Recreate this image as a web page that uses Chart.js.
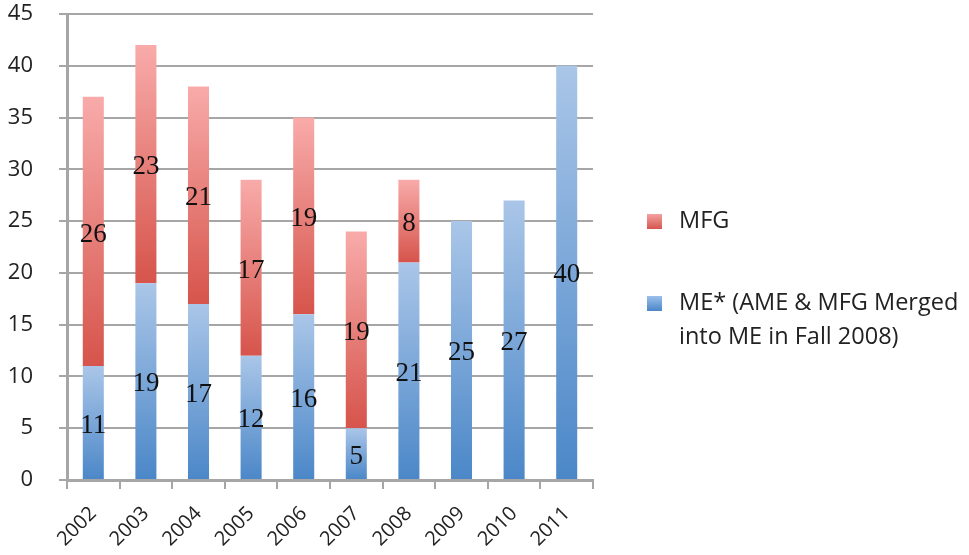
<!DOCTYPE html>
<html>
<head>
<meta charset="utf-8">
<script src="https://cdn.jsdelivr.net/npm/chart.js@4/dist/chart.umd.min.js"></script>
<style>
html,body{margin:0;padding:0;background:#fff;}
#wrap{position:relative;width:969px;height:555px;}
</style>
</head>
<body>
<div id="wrap"><canvas id="c" width="969" height="555"></canvas></div>
<script>
const years = ['2002','2003','2004','2005','2006','2007','2008','2009','2010','2011'];
const meValues = [11, 19, 17, 12, 16, 5, 21, 25, 27, 40];
const mfgValues = [26, 23, 21, 17, 19, 19, 8, null, null, null];
const seriesNames = ['ME* (AME & MFG Merged\ninto ME in Fall 2008)', 'MFG'];
const yTicks = [0,5,10,15,20,25,30,35,40,45];

const palettes = [
  {top:'#aac6e8', bottom:'#4b87c8', legendTop:'#9cc0ea', legendBottom:'#4a86c8'},
  {top:'#f8abaa', bottom:'#d6544b', legendTop:'#f4a19f', legendBottom:'#d4574f'}
];

function segGradient(ctx, dsIndex){
  const chart = ctx.chart;
  const pal = palettes[dsIndex];
  if (!chart.chartArea || !chart.scales.y || ctx.type !== 'data') return pal.bottom;
  const i = ctx.dataIndex;
  const y = chart.scales.y;
  let lo, hi;
  if (dsIndex === 0) { lo = 0; hi = meValues[i]; }
  else { lo = meValues[i]; hi = meValues[i] + (mfgValues[i] || 0); }
  const yTop = y.getPixelForValue(hi), yBot = y.getPixelForValue(lo);
  if (!(yBot > yTop)) return pal.bottom;
  const g = chart.ctx.createLinearGradient(0, yTop, 0, yBot);
  g.addColorStop(0, pal.top);
  g.addColorStop(1, pal.bottom);
  return g;
}

const valueLabels = {
  id: 'valueLabels',
  afterDatasetsDraw(chart){
    const c = chart.ctx;
    c.save();
    c.font = '27px "Liberation Serif", "DejaVu Serif", serif';
    c.fillStyle = '#111';
    c.textAlign = 'center';
    c.textBaseline = 'middle';
    chart.data.datasets.forEach((ds, di) => {
      const meta = chart.getDatasetMeta(di);
      meta.data.forEach((el, i) => {
        const v = ds.data[i];
        if (v === null || v === undefined) return;
        const p = el.getProps(['x','y','base'], true);
        c.fillText(String(v), p.x, (p.y + p.base)/2 + 3);
      });
    });
    c.restore();
  }
};

const sideLegend = {
  id: 'sideLegend',
  afterDraw(chart){
    const c = chart.ctx;
    c.save();
    c.font = '23.5px "Open Sans", Lato, sans-serif';
    c.textBaseline = 'middle';
    c.textAlign = 'left';
    const items = [
      {ds:1, y:221},
      {ds:0, y:303}
    ];
    items.forEach(it => {
      const pal = palettes[it.ds];
      const sx = 647, sz = 15, sy = it.y - 7;
      const g = c.createLinearGradient(0, sy, 0, sy + sz);
      g.addColorStop(0, pal.legendTop);
      g.addColorStop(1, pal.legendBottom);
      c.fillStyle = g;
      c.fillRect(sx, sy, sz, sz);
      c.fillStyle = '#222';
      const lines = chart.data.datasets[it.ds].label.split('\n');
      lines.forEach((ln, k) => c.fillText(ln, 679, it.y + k*34));
    });
    c.restore();
  }
};

new Chart(document.getElementById('c'), {
  type: 'bar',
  data: {
    labels: years,
    datasets: [
      {label: seriesNames[0], data: meValues, backgroundColor: ctx => segGradient(ctx, 0), borderWidth: 0},
      {label: seriesNames[1], data: mfgValues, backgroundColor: ctx => segGradient(ctx, 1), borderWidth: 0}
    ]
  },
  options: {
    responsive: false,
    animation: false,
    layout: {padding: {top: 14, right: 376, left: 0, bottom: 0}},
    plugins: {legend: {display: false}, tooltip: {enabled: false}},
    datasets: {bar: {barPercentage: 0.4, categoryPercentage: 1.0}},
    scales: {
      x: {
        stacked: true,
        offset: true,
        grid: {display: true, drawOnChartArea: false, offset: true, color: '#a6a6a6', lineWidth: 2, tickLength: 9},
        border: {display: true, color: '#a6a6a6', width: 3},
        ticks: {
          color: '#222', font: {family: '"Open Sans", Lato, sans-serif', size: 20},
          minRotation: 45, maxRotation: 45, padding: 13
        },
        afterFit(scale){ scale.height = 75; scale.paddingLeft = 0; scale.paddingRight = 0; }
      },
      y: {
        stacked: true,
        min: 0, max: 45,
        afterBuildTicks(scale){ scale.ticks = yTicks.map(v => ({value: v})); },
        grid: {color: '#a6a6a6', lineWidth: 2, tickLength: 8},
        border: {display: true, color: '#a6a6a6', width: 3},
        ticks: {color: '#222', font: {family: '"Open Sans", Lato, sans-serif', size: 22}, padding: 26},
        afterFit(scale){ scale.width = 67; scale.paddingTop = 0; scale.paddingBottom = 0; }
      }
    }
  },
  plugins: [valueLabels, sideLegend]
});
</script>
</body>
</html>
